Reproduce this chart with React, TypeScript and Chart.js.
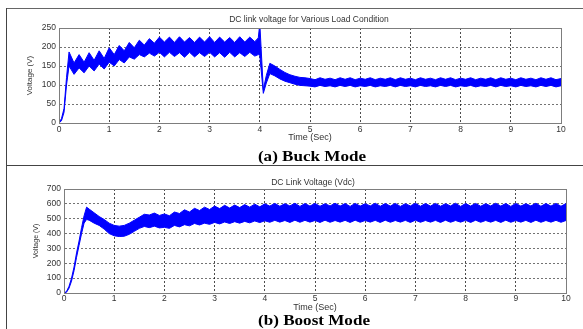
import React, { useEffect, useRef } from "react";
import { Chart, registerables } from "chart.js";
Chart.register(...registerables);

// ---------- (a) Buck mode ----------
const buckTime = [
  0, 0.05, 0.1, 0.15, 0.2, 0.3, 0.4, 0.5, 0.6, 0.7, 0.8, 0.9, 1.0, 1.1, 1.2, 1.3, 1.4, 1.5, 1.6, 1.7, 1.8, 1.9, 2.0,
  2.1, 2.2, 2.3, 2.4, 2.5, 2.6, 2.7, 2.8, 2.9, 3.0, 3.1, 3.2, 3.3, 3.4, 3.5, 3.6, 3.7, 3.8, 3.9,
  3.97, 4.0, 4.07, 4.13,
  4.2, 4.3, 4.4, 4.5, 4.6, 4.7, 4.8, 4.9, 5.0,
  5.1, 5.2, 5.3, 5.4, 5.5, 5.6, 5.7, 5.8, 5.9, 6.0,
  6.1, 6.2, 6.3, 6.4, 6.5, 6.6, 6.7, 6.8, 6.9, 7.0,
  7.1, 7.2, 7.3, 7.4, 7.5, 7.6, 7.7, 7.8, 7.9, 8.0,
  8.1, 8.2, 8.3, 8.4, 8.5, 8.6, 8.7, 8.8, 8.9, 9.0,
  9.1, 9.2, 9.3, 9.4, 9.5, 9.6, 9.7, 9.8, 9.9, 10.0,
];
const buckUpper = [
  0, 12, 38, 120, 187, 158, 180, 160, 185, 165, 190, 170, 198, 180, 204, 190, 212, 198, 218, 205, 222, 210, 226,
  213, 226, 212, 227, 213, 225, 212, 226, 213, 227, 212, 226, 213, 225, 212, 227, 213, 226, 214,
  224, 262, 88, 125,
  157, 150, 141, 133, 127, 123, 120, 119, 117,
  114, 119, 115, 118, 114, 119, 115, 119, 114, 118,
  115, 119, 114, 118, 115, 119, 114, 119, 115, 118,
  114, 119, 115, 118, 114, 119, 115, 119, 114, 118,
  115, 119, 114, 118, 115, 119, 114, 119, 115, 118,
  114, 119, 115, 118, 114, 119, 115, 119, 114, 117,
];
const buckLower = [
  0, 6, 28, 100, 150, 128, 145, 132, 150, 137, 155, 142, 160, 150, 167, 158, 174, 168, 180, 174, 184, 176, 186,
  174, 186, 175, 185, 173, 186, 174, 185, 175, 186, 174, 185, 173, 186, 174, 185, 175, 186, 176,
  180, 178, 78, 105,
  130, 124, 116, 110, 106, 102, 99, 98, 97,
  95, 99, 96, 98, 95, 99, 96, 99, 95, 98,
  96, 99, 95, 98, 96, 99, 95, 99, 96, 98,
  95, 99, 96, 98, 95, 99, 96, 99, 95, 98,
  96, 99, 95, 98, 96, 99, 95, 99, 96, 98,
  95, 99, 96, 98, 95, 99, 96, 99, 95, 98,
];

// ---------- (b) Boost mode ----------
const boostTime = [
  0, 0.05, 0.1, 0.15, 0.2, 0.25, 0.3, 0.35, 0.4, 0.45,
  0.5, 0.6, 0.7, 0.8, 0.9, 1.0, 1.1, 1.2, 1.3, 1.4, 1.5, 1.6, 1.7, 1.8, 1.9, 2.0,
  2.1, 2.2, 2.3, 2.4, 2.5, 2.6, 2.7, 2.8, 2.9, 3.0,
  3.1, 3.2, 3.3, 3.4, 3.5, 3.6, 3.7, 3.8, 3.9, 4.0,
  4.1, 4.2, 4.3, 4.4, 4.5, 4.6, 4.7, 4.8, 4.9, 5.0,
  5.1, 5.2, 5.3, 5.4, 5.5, 5.6, 5.7, 5.8, 5.9, 6.0,
  6.1, 6.2, 6.3, 6.4, 6.5, 6.6, 6.7, 6.8, 6.9, 7.0,
  7.1, 7.2, 7.3, 7.4, 7.5, 7.6, 7.7, 7.8, 7.9, 8.0,
  8.1, 8.2, 8.3, 8.4, 8.5, 8.6, 8.7, 8.8, 8.9, 9.0,
  9.1, 9.2, 9.3, 9.4, 9.5, 9.6, 9.7, 9.8, 9.9, 10.0,
];
const boostUpper = [
  0, 10, 45, 100, 175, 270, 350, 440, 520, 578,
  565, 540, 515, 495, 470, 455, 450, 455, 470, 490, 510, 530, 525, 538, 522, 532,
  520, 545, 535, 560, 545, 570, 555, 578, 562, 585,
  568, 590, 572, 592, 575, 595, 578, 598, 580, 600,
  585, 603, 584, 601, 586, 604, 583, 602, 585, 603,
  584, 601, 586, 604, 585, 602, 583, 603, 585, 601,
  586, 604, 584, 602, 585, 603, 583, 601, 586, 604,
  584, 602, 585, 603, 584, 601, 586, 604, 583, 602,
  585, 603, 584, 601, 586, 604, 585, 602, 583, 603,
  585, 601, 586, 604, 584, 602, 585, 603, 584, 602,
];
const boostLower = [
  0, 5, 32, 80, 150, 240, 320, 400, 470, 495,
  490, 470, 455, 430, 400, 385, 380, 382, 395, 415, 435, 448, 440, 450, 438, 442,
  435, 455, 445, 460, 452, 468, 458, 470, 462, 475,
  465, 478, 468, 480, 470, 482, 472, 485, 474, 486,
  476, 489, 477, 488, 475, 490, 476, 489, 477, 488,
  475, 490, 476, 488, 477, 489, 475, 490, 476, 488,
  477, 489, 475, 490, 476, 488, 477, 489, 475, 490,
  476, 488, 477, 489, 475, 490, 476, 488, 477, 489,
  475, 490, 476, 488, 477, 489, 475, 490, 476, 488,
  477, 489, 475, 490, 476, 488, 477, 489, 476, 488,
];

const BLUE = "#0000ff";
const SANS = "'Liberation Sans', Arial, sans-serif";

const framePlugin = {
  id: "frameBox",
  afterDraw(chart: any) {
    const { ctx, chartArea: a } = chart;
    ctx.save();
    ctx.strokeStyle = "#7d7d7d";
    ctx.lineWidth = 1;
    ctx.strokeRect(a.left + 0.5, a.top + 0.5, a.right - a.left, a.bottom - a.top);
    ctx.restore();
  },
};

type Cfg = {
  time: number[];
  hi: number[];
  lo: number[];
  yMax: number;
  yStep: number;
  padTop: number;
  padRight: number;
  yWidth: number;
  xHeight: number;
  xTickPad: number;
  xTitlePadBottom: number;
  yTitlePadTop: number;
  yTitleSize: number;
};

function makeChart(canvas: HTMLCanvasElement, c: Cfg) {
  const hiPts = c.time.map((t, i) => ({ x: t, y: c.hi[i] }));
  const loPts = c.time.map((t, i) => ({ x: t, y: c.lo[i] }));
  return new Chart(canvas, {
    type: "line",
    data: {
      datasets: [
        { data: loPts, borderColor: BLUE, borderWidth: 1, pointRadius: 0, fill: false, tension: 0 },
        {
          data: hiPts,
          borderColor: BLUE,
          borderWidth: 1,
          pointRadius: 0,
          fill: "-1",
          backgroundColor: BLUE,
          tension: 0,
        },
      ],
    },
    options: {
      animation: false,
      responsive: false,
      maintainAspectRatio: false,
      devicePixelRatio: 1,
      events: [],
      layout: { padding: { left: 0, right: c.padRight, top: c.padTop, bottom: 0 } },
      plugins: { legend: { display: false }, tooltip: { enabled: false }, title: { display: false } },
      scales: {
        x: {
          type: "linear",
          min: 0,
          max: 10,
          afterFit: (s: any) => {
            s.height = c.xHeight;
          },
          ticks: { stepSize: 1, padding: c.xTickPad, color: "#333", font: { family: SANS, size: 8.5 }, maxRotation: 0 },
          grid: { color: "rgba(0,0,0,0.7)", lineWidth: 1, drawTicks: false },
          border: { display: true, color: "#7d7d7d", dash: [2, 2] },
          title: {
            display: true,
            text: "Time (Sec)",
            color: "#333",
            font: { family: SANS, size: 9 },
            padding: { top: 0, bottom: c.xTitlePadBottom },
          },
        },
        y: {
          type: "linear",
          min: 0,
          max: c.yMax,
          afterFit: (s: any) => {
            s.width = c.yWidth;
          },
          ticks: { stepSize: c.yStep, padding: 3, color: "#333", font: { family: SANS, size: 8.5 } },
          grid: { color: "rgba(0,0,0,0.55)", lineWidth: 1, drawTicks: false },
          border: { display: true, color: "#7d7d7d", dash: [2, 2] },
          title: {
            display: true,
            text: "Voltage (V)",
            color: "#333",
            font: { family: SANS, size: c.yTitleSize },
            padding: { top: c.yTitlePadTop, bottom: 0 },
          },
        },
      },
    },
    plugins: [framePlugin],
  } as any);
}

export default function App() {
  const topRef = useRef<HTMLCanvasElement>(null);
  const botRef = useRef<HTMLCanvasElement>(null);

  useEffect(() => {
    const a = makeChart(topRef.current!, {
      time: buckTime,
      hi: buckUpper,
      lo: buckLower,
      yMax: 250,
      yStep: 50,
      padTop: 28,
      padRight: 22,
      yWidth: 59,
      xHeight: 42,
      xTickPad: 2,
      xTitlePadBottom: 21.6,
      yTitlePadTop: 24.6,
      yTitleSize: 8,
    });
    const b = makeChart(botRef.current!, {
      time: boostTime,
      hi: boostUpper,
      lo: boostLower,
      yMax: 700,
      yStep: 100,
      padTop: 24,
      padRight: 17,
      yWidth: 64,
      xHeight: 36,
      xTickPad: 1,
      xTitlePadBottom: 15.6,
      yTitlePadTop: 31.6,
      yTitleSize: 7,
    });
    return () => {
      a.destroy();
      b.destroy();
    };
  }, []);

  const abs = (s: React.CSSProperties): React.CSSProperties => ({ position: "absolute", ...s });

  return (
    <div style={{ position: "fixed", left: 0, top: 0, width: 583, height: 329, background: "#fff", overflow: "hidden" }}>
      <canvas ref={topRef} width={583} height={165} style={abs({ left: 0, top: 0, width: 583, height: 165 })} />
      <canvas ref={botRef} width={583} height={164} style={abs({ left: 0, top: 165, width: 583, height: 164 })} />

      {/* panel borders */}
      <div style={abs({ left: 6, top: 8, width: 577, height: 1, background: "#666" })} />
      <div style={abs({ left: 6, top: 8, width: 1, height: 321, background: "#444" })} />
      <div style={abs({ left: 6, top: 165, width: 577, height: 1, background: "#444" })} />

      {/* plot titles */}
      <div
        style={abs({
          left: 159,
          top: 14,
          width: 300,
          textAlign: "center",
          fontFamily: SANS,
          fontSize: 8.5,
          lineHeight: "10px",
          color: "#333",
          whiteSpace: "nowrap",
        })}
      >
        DC link voltage for Various Load Condition
      </div>
      <div
        style={abs({
          left: 163,
          top: 177,
          width: 300,
          textAlign: "center",
          fontFamily: SANS,
          fontSize: 8.5,
          lineHeight: "10px",
          color: "#333",
          whiteSpace: "nowrap",
        })}
      >
        DC Link Voltage (Vdc)
      </div>

      {/* captions */}
      <div
        style={abs({
          left: 162,
          top: 149,
          width: 300,
          textAlign: "center",
          fontFamily: "'Liberation Serif', 'Times New Roman', serif",
          fontWeight: "bold",
          fontSize: 14,
          lineHeight: "16px",
          color: "#000",
          transform: "scaleX(1.22)",
          whiteSpace: "nowrap",
        })}
      >
        (a) Buck Mode
      </div>
      <div
        style={abs({
          left: 164,
          top: 313,
          width: 300,
          textAlign: "center",
          fontFamily: "'Liberation Serif', 'Times New Roman', serif",
          fontWeight: "bold",
          fontSize: 14,
          lineHeight: "16px",
          color: "#000",
          transform: "scaleX(1.22)",
          whiteSpace: "nowrap",
        })}
      >
        (b) Boost Mode
      </div>
    </div>
  );
}
